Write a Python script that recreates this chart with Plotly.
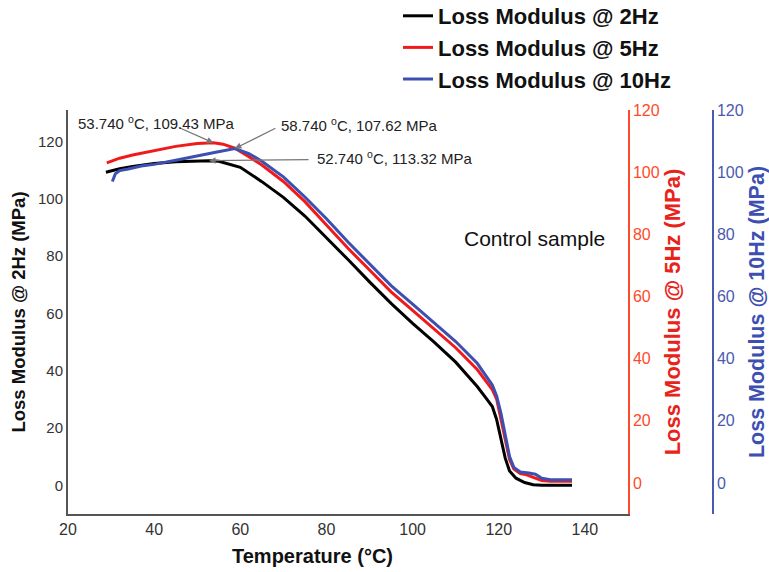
import plotly.graph_objects as go

# ---------------- data ----------------
temp_2hz = [28.8, 32, 35, 40, 45, 50, 52.74, 55, 60, 65, 70, 75, 80, 85, 90, 95, 100, 105, 110,
            115, 117, 118.5, 119.5, 120.5, 121.5, 122.5, 124, 126, 128, 130, 137]
loss_2hz = [109.3, 110.5, 111.3, 112.3, 112.9, 113.2, 113.32, 113.1, 111.0, 106.0, 100.5, 94.0, 86.5,
            78.8, 71.0, 63.5, 56.5, 50.0, 43.0, 34.5, 30.5, 27.5, 23.0, 16.0, 9.5, 5.0, 2.5, 1.0,
            0.2, 0.0, 0.0]

temp_5hz = [29, 32, 35, 40, 45, 50, 53.74, 56, 58.74, 62, 65, 70, 75, 80, 85, 90, 95, 100, 105, 110,
            115, 117, 118.5, 119.5, 120.5, 121.5, 122.5, 123.5, 125, 126.5, 128, 130, 132, 137]
loss_5hz = [103.0, 104.5, 105.5, 107.0, 108.3, 109.2, 109.43, 109.0, 107.7, 105.0, 102.3, 97.0, 90.5,
            83.0, 75.5, 68.5, 61.5, 55.5, 49.5, 43.5, 36.5, 33.0, 30.0, 27.0, 21.0, 14.0, 7.5, 4.5,
            3.0, 2.6, 1.8, 0.8, 0.5, 0.5]

temp_10hz = [30.3, 31, 32, 34, 37, 40, 45, 50, 54, 58.74, 62, 65, 70, 75, 80, 85, 90, 95, 100, 105,
             110, 115, 117, 118.5, 119.5, 120.5, 121.5, 122.5, 123.5, 125, 127, 128.5, 130, 132, 137]
loss_10hz = [97.0, 99.5, 100.5, 101.0, 102.0, 102.5, 103.8, 105.3, 106.3, 107.62, 106.0, 103.5, 98.5,
             92.0, 85.0, 77.5, 70.5, 63.5, 57.5, 51.5, 45.5, 38.5, 34.5, 31.5, 28.0, 22.5, 15.5,
             8.5, 5.0, 3.5, 3.2, 2.8, 1.5, 1.0, 1.0]

series_names = ["Loss Modulus @ 2Hz", "Loss Modulus @ 5Hz", "Loss Modulus @ 10Hz"]
x_ticks = [20, 40, 60, 80, 100, 120, 140]
y_ticks = [0, 20, 40, 60, 80, 100, 120]

# peak labels: (temperature, value, series axis)
peak_temp = [53.74, 58.74, 52.74]
peak_val = [109.43, 107.62, 113.32]
peak_axis = ["y2", "y3", "y"]

# ---------------- styles ----------------
BLACK = "#000000"
RED = "#f01a1a"
BLUE = "#3d4fb0"
RED_AX = "#ff4a2a"
BLUE_AX = "#4a5aae"
FONT = "Liberation Sans, Arial, sans-serif"

W, H = 769, 572
ML, MR, MT, MB = 68, 56, 110, 58
PW = W - ML - MR
PH = H - MT - MB


def px(xp):
    return (xp - ML) / PW


def py(yp):
    return (H - MB - yp) / PH


fig = go.Figure()
fig.add_trace(go.Scatter(x=temp_2hz, y=loss_2hz, name=series_names[0], mode="lines",
                         line=dict(color=BLACK, width=3), yaxis="y"))
fig.add_trace(go.Scatter(x=temp_5hz, y=loss_5hz, name=series_names[1], mode="lines",
                         line=dict(color=RED, width=3), yaxis="y2"))
fig.add_trace(go.Scatter(x=temp_10hz, y=loss_10hz, name=series_names[2], mode="lines",
                         line=dict(color=BLUE, width=3), yaxis="y3"))

xdom_end = (628 - ML) / PW

fig.update_layout(
    width=W, height=H,
    margin=dict(l=ML, r=MR, t=MT, b=MB, autoexpand=False),
    paper_bgcolor="white", plot_bgcolor="white",
    font=dict(family=FONT, color="#333"),
    showlegend=True,
    legend=dict(x=px(398), y=py(-5), xanchor="left", yanchor="top",
                font=dict(family=FONT, size=22, color="#111", weight="bold"),
                bgcolor="rgba(0,0,0,0)", tracegroupgap=0, itemwidth=30),
    xaxis=dict(domain=[0, xdom_end], range=[20, 150], tickvals=x_ticks,
               showline=True, linecolor="#555", linewidth=2, ticks="",
               showgrid=False, zeroline=False,
               tickfont=dict(size=16, color="#333")),
    yaxis=dict(range=[-10, 131], tickvals=y_ticks, showline=True, linecolor="#555",
               linewidth=2, ticks="", showgrid=False, zeroline=False,
               tickfont=dict(size=15, color="#333"),
               title=dict(text="Loss Modulus @ 2Hz (MPa)", standoff=7,
                          font=dict(size=18.5, color="#111", weight="bold"))),
    yaxis2=dict(range=[-10, 120], tickvals=y_ticks, overlaying="y", side="right", anchor="x",
                showline=True, linecolor=RED_AX, linewidth=1.5, ticks="", showgrid=False,
                zeroline=False, tickfont=dict(size=16, color=RED_AX),
                title=dict(text="Loss Modulus @ 5Hz (MPa)", standoff=5,
                           font=dict(size=22, color="#e8231a", weight="bold"))),
    yaxis3=dict(range=[-10, 120], tickvals=y_ticks, overlaying="y", side="right", anchor="free",
                position=1.0, showline=True, linecolor=BLUE_AX, linewidth=1.5, ticks="",
                showgrid=False, zeroline=False, tickfont=dict(size=16, color=BLUE_AX),
                title=dict(text="Loss Modulus @ 10Hz (MPa)", standoff=5,
                           font=dict(size=21.5, color="#3d4fb0", weight="bold"))),
)

# x axis title (placed left of centre, as in the reference)
fig.add_annotation(text="Temperature (°C)", xref="paper", yref="paper", x=px(312), y=py(556),
                   xanchor="center", yanchor="middle", showarrow=False,
                   font=dict(size=20, color="#111", weight="bold"))

# "Control sample"
fig.add_annotation(text="Control sample", xref="paper", yref="paper", x=px(534), y=py(238),
                   xanchor="center", yanchor="middle", showarrow=False,
                   font=dict(size=21, color="#111"))

# peak labels
label_xy = [(156, 122), (359, 124), (394, 157)]
arrow_off = [(-36, -16), (42, -21), (101, -1)]
for t, v, ax_name, (lx, ly), (ox, oy) in zip(peak_temp, peak_val, peak_axis, label_xy, arrow_off):
    fig.add_annotation(x=t, y=v, xref="x", yref=ax_name, text="", showarrow=True,
                       ax=ox, ay=oy, axref="pixel", ayref="pixel",
                       arrowhead=2, arrowsize=1, arrowwidth=1.3, arrowcolor="#777")
    fig.add_annotation(text=f"{t:.3f} <sup>o</sup>C, {v:.2f} MPa", xref="paper", yref="paper",
                       x=px(lx), y=py(ly), xanchor="center", yanchor="middle", showarrow=False,
                       font=dict(size=15, color="#222"))

fig.write_html("out.html")
